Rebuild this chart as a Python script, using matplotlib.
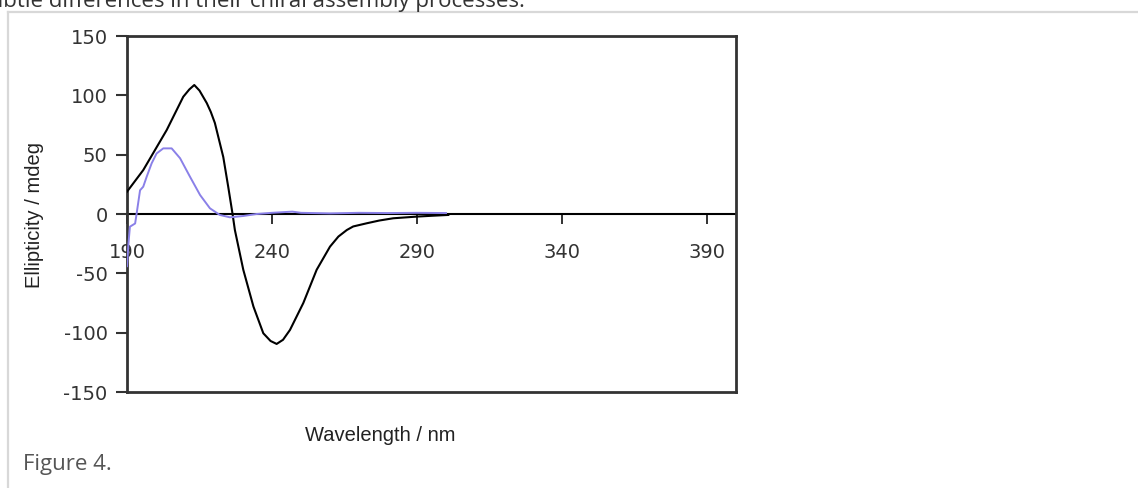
import matplotlib
matplotlib.use("Agg")
import matplotlib.pyplot as plt
from matplotlib.lines import Line2D

# ---- data ----
black_wl = [190, 195.6, 203.7, 209.4, 211.5, 213.2, 215.0, 217.5, 218.9, 220.3,
            223.2, 224.9, 226.4, 227.2, 230.1, 233.6, 237.0, 239.5, 241.6, 243.8,
            246.2, 250.8, 255.4, 260.0, 262.9, 265.8, 268.0, 272.7, 277.0, 281.8,
            289.9, 295.0, 300.8]
black_val = [18.8, 37, 70.8, 98.8, 105, 108.7, 104, 93.5, 86, 76.7,
             48, 23, 0, -13.5, -47, -78, -100.5, -107, -109.5, -106,
             -97.7, -75, -47, -27.5, -19, -13.5, -10.5, -7.8, -5.5, -3.6,
             -2.2, -1.5, -0.8]

blue_wl = [190, 190.5, 191, 192.8, 193.3, 194.5, 195.6, 196.8, 198.5, 200.2,
           202.5, 205.4, 208.3, 211.7, 215.2, 218.6, 222, 225.5, 230, 234.7,
           240, 247, 250, 260, 270, 280, 290, 300]
blue_val = [-44, -25, -10.7, -8, 0, 20, 23, 31.5, 42.7, 51,
            55.3, 55.3, 47, 31.5, 16, 4.8, -0.8, -2.8, -1.7, 0,
            1, 2, 1, 0.5, 1, 0.8, 1, 0.8]

x_ticks = [190, 240, 290, 340, 390]
y_ticks = [-150, -100, -50, 0, 50, 100, 150]
y_tick_labels = ["-150", "-100", "-50", "0", "50", "100", "150"]

W, H = 1138, 488
fig = plt.figure(figsize=(W / 100, H / 100), dpi=100)
fig.patch.set_facecolor("white")

# page frame lines
fig.add_artist(Line2D([8 / W, 1], [1 - 12 / H, 1 - 12 / H], transform=fig.transFigure,
                      color="#d8d8d8", lw=1.6))
fig.add_artist(Line2D([8 / W, 8 / W], [0, 1 - 12 / H], transform=fig.transFigure,
                      color="#d8d8d8", lw=1.6))

# page text
fig.text(-21 / W, 1 - 7 / H, "subtle differences in their chiral assembly processes.",
         family="Open Sans", fontsize=16, color="#333333", va="baseline", ha="left")
fig.text(23 / W, 1 - 470 / H, "Figure 4.", family="Open Sans", fontsize=16,
         color="#555555", va="baseline", ha="left")

ax = fig.add_axes([127 / W, 1 - 392 / H, (736 - 127) / W, (392 - 36) / H])
ax.plot(black_wl, black_val, color="black", lw=1.5, zorder=3)
ax.plot(blue_wl, blue_val, color="#8a80e8", lw=1.4, zorder=3)

ax.set_xlim(190, 400)
ax.set_ylim(-150, 150)
ax.set_xticks([])
ax.set_yticks(y_ticks)
ax.set_yticklabels(y_tick_labels)
ax.tick_params(axis="y", direction="out", length=8, width=1.5, pad=6,
               labelsize=14, labelcolor="#333333", color="#333333")
for s in ax.spines.values():
    s.set_color("#333333")
    s.set_linewidth(2)

sec = ax.secondary_xaxis(0.5)
sec.set_alignment("bottom")
sec.set_xticks(x_ticks)
sec.tick_params(direction="out", length=7, width=1.3, pad=14, labelsize=14,
                labelcolor="#333333", color="#222222")
sec.spines["bottom"].set_color("black")
sec.spines["bottom"].set_linewidth(1.5)

fig.text(35 / W, 1 - 215 / H, "Ellipticity / mdeg", family="Liberation Sans",
         fontsize=14.5, color="#222222", rotation=90, ha="center", va="center")
fig.text(380 / W, 1 - 441 / H, "Wavelength / nm", family="Liberation Sans",
         fontsize=14.5, color="#222222", ha="center", va="baseline")

fig.savefig("out.png", dpi=100)
